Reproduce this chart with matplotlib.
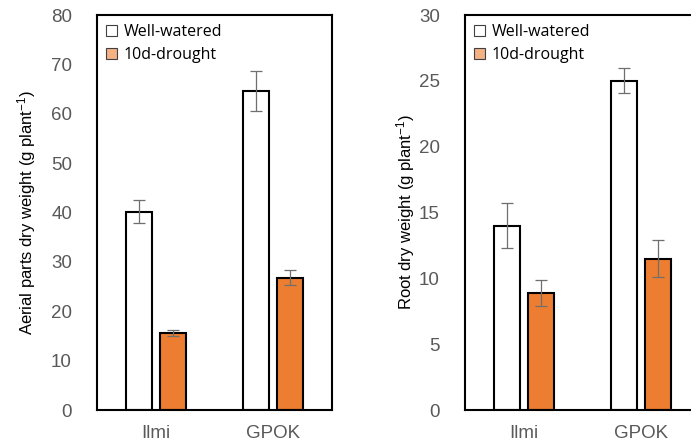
import matplotlib
matplotlib.use("Agg")
import matplotlib.pyplot as plt
from matplotlib.patches import Patch
import numpy as np

plt.rcParams['font.family'] = ['Liberation Sans', 'DejaVu Sans']
plt.rcParams['mathtext.fontset'] = 'custom'
plt.rcParams['mathtext.rm'] = 'Liberation Sans'
plt.rcParams['mathtext.it'] = 'Liberation Sans'
plt.rcParams['mathtext.default'] = 'regular'

cultivars = ["Ilmi", "GPOK"]
series = ["Well-watered", "10d-drought"]

aerial_ww = [40.2, 64.6]
aerial_ww_err = [2.4, 4.0]
aerial_dr = [15.6, 26.8]
aerial_dr_err = [0.7, 1.5]

root_ww = [14.0, 25.0]
root_ww_err = [1.7, 0.95]
root_dr = [8.9, 11.5]
root_dr_err = [1.0, 1.4]

W, H = 691, 448
fig = plt.figure(figsize=(W / 100, H / 100), dpi=100)

orange = "#ED7D31"
legend_orange = "#F4B183"
tick_col = "#595959"


def panel(rect, ww, wwe, dr, dre, ymax, ystep, ylabel):
    ax = fig.add_axes(rect)
    x = np.arange(len(cultivars))
    bw = 0.223
    off = 0.143
    ekw = dict(ecolor="#6f6f6f", elinewidth=0.9, capsize=4, capthick=0.9)
    ax.bar(x - off, ww, bw, yerr=wwe, color="white", edgecolor="black",
           linewidth=1.5, error_kw=ekw, zorder=2)
    ax.bar(x + off, dr, bw, yerr=dre, color=orange, edgecolor="black",
           linewidth=1.5, error_kw=ekw, zorder=2)
    ax.set_xlim(-0.505, 1.505)
    ax.set_ylim(0, ymax)
    ax.set_yticks(np.arange(0, ymax + 0.01, ystep))
    ax.set_xticks(x)
    ax.set_xticklabels(cultivars)
    ax.tick_params(axis="y", length=0, pad=18, labelsize=13.5, labelcolor=tick_col)
    ax.tick_params(axis="x", length=0, pad=11, labelsize=13.5, labelcolor=tick_col)
    for s in ax.spines.values():
        s.set_linewidth(1.5)
        s.set_color("black")
    ax.set_ylabel(ylabel, fontsize=12, color="black")
    handles = [Patch(facecolor="white", edgecolor="#404040", linewidth=0.8),
               Patch(facecolor=legend_orange, edgecolor="#404040", linewidth=0.8)]
    ax.legend(handles, series, loc="upper left", frameon=False,
              handlelength=0.7, handleheight=0.7,
              handletextpad=0.4, labelspacing=0.45,
              borderaxespad=0.25, borderpad=0.3,
              prop={'family': ['Open Sans', 'DejaVu Sans'], 'size': 11.5})
    return ax


ax1 = panel([97 / W, (H - 410) / H, 235 / W, 395 / H],
            aerial_ww, aerial_ww_err, aerial_dr, aerial_dr_err, 80, 10,
            "Aerial parts dry weight (g plant$^{-1}$)")
ax1.yaxis.set_label_coords(-0.25, 0.5)

ax2 = panel([465 / W, (H - 410) / H, 235 / W, 395 / H],
            root_ww, root_ww_err, root_dr, root_dr_err, 30, 5,
            "Root dry weight (g plant$^{-1}$)")
ax2.yaxis.set_label_coords(-0.205, 0.5)

fig.savefig("out.png", dpi=100)
